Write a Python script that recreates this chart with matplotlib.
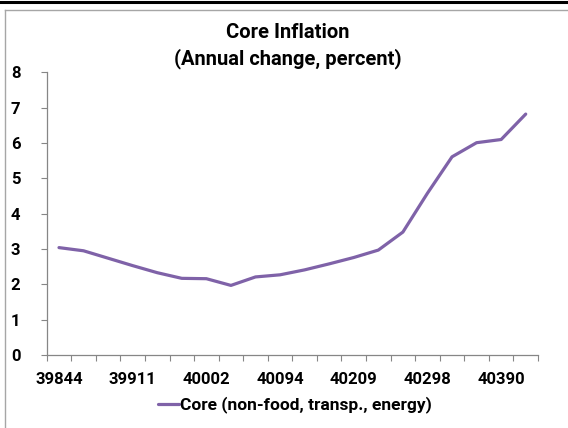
import matplotlib
matplotlib.use('Agg')
import matplotlib.pyplot as plt
from matplotlib.lines import Line2D

# Excel date serials (monthly, Jan 2009 - Aug 2010); only every 3rd one is labelled
dates = [39844, 39872, 39903, 39911, 39964, 39994, 40002, 40056, 40086, 40094,
         40147, 40178, 40209, 40237, 40268, 40298, 40329, 40359, 40390, 40421]
core = [3.04, 2.95, 2.74, 2.53, 2.33, 2.17, 2.16, 1.97, 2.21, 2.27,
        2.41, 2.58, 2.76, 2.97, 3.48, 4.58, 5.61, 6.01, 6.10, 6.82]
label_every = 3
series_name = 'Core (non-food, transp., energy)'
title = 'Core Inflation\n(Annual change, percent)'

plt.rcParams['font.family'] = ['Roboto', 'DejaVu Sans']
plt.rcParams['font.weight'] = 'bold'

W, H = 568, 428
fig = plt.figure(figsize=(W / 100, H / 100), dpi=100)
ax = fig.add_axes([46.7 / W, 1 - 355 / H, (538 - 46.7) / W, (355 - 72.4) / H])

x = list(range(len(core)))
ax.plot(x, core, color='#7F62A8', lw=2.3, solid_capstyle='round', label=series_name)

ax.set_xlim(-0.5, len(core) - 0.5)
ax.set_ylim(0, 8)
ax.set_yticks(range(0, 9))

# category axis: ticks between categories, labels on every third category
ax.set_xticks([i - 0.5 for i in range(len(core) + 1)])
ax.set_xticklabels([])
ax.set_xticks(x[::label_every], minor=True)
ax.set_xticklabels([str(d) for d in dates[::label_every]], minor=True)
ax.tick_params(axis='x', which='minor', length=0, pad=12, labelsize=12)
ax.tick_params(axis='x', which='major', length=4, color='#868686', direction='out')
ax.tick_params(axis='y', length=4, color='#868686', pad=15, labelsize=12)
for lab in ax.get_xticklabels(minor=True) + ax.get_yticklabels():
    lab.set_fontweight('bold')

for side in ['top', 'right']:
    ax.spines[side].set_visible(False)
for side in ['left', 'bottom']:
    ax.spines[side].set_color('#868686')
    ax.spines[side].set_linewidth(0.9)

fig.text(288 / W, 1 - 46 / H, title, ha='center', va='center',
         fontsize=14.5, fontweight='bold', linespacing=1.35)

ax.legend(loc='center', bbox_to_anchor=(295 / W, 1 - 405 / H),
          bbox_transform=fig.transFigure, frameon=False,
          handlelength=1.2, handletextpad=0.05, prop={'weight': 'bold', 'size': 12.5})

# outer frame like the Excel chart area
fig.add_artist(Line2D([0, 1], [1 - 2 / H, 1 - 2 / H], color='black', lw=2.2,
                      transform=fig.transFigure))
fig.add_artist(Line2D([5 / W, 1], [1 - 10 / H, 1 - 10 / H], color='#a6a6a6', lw=1,
                      transform=fig.transFigure))
fig.add_artist(Line2D([5 / W, 5 / W], [0, 1 - 10 / H], color='#a6a6a6', lw=1,
                      transform=fig.transFigure))

fig.savefig('out.png', dpi=100)
